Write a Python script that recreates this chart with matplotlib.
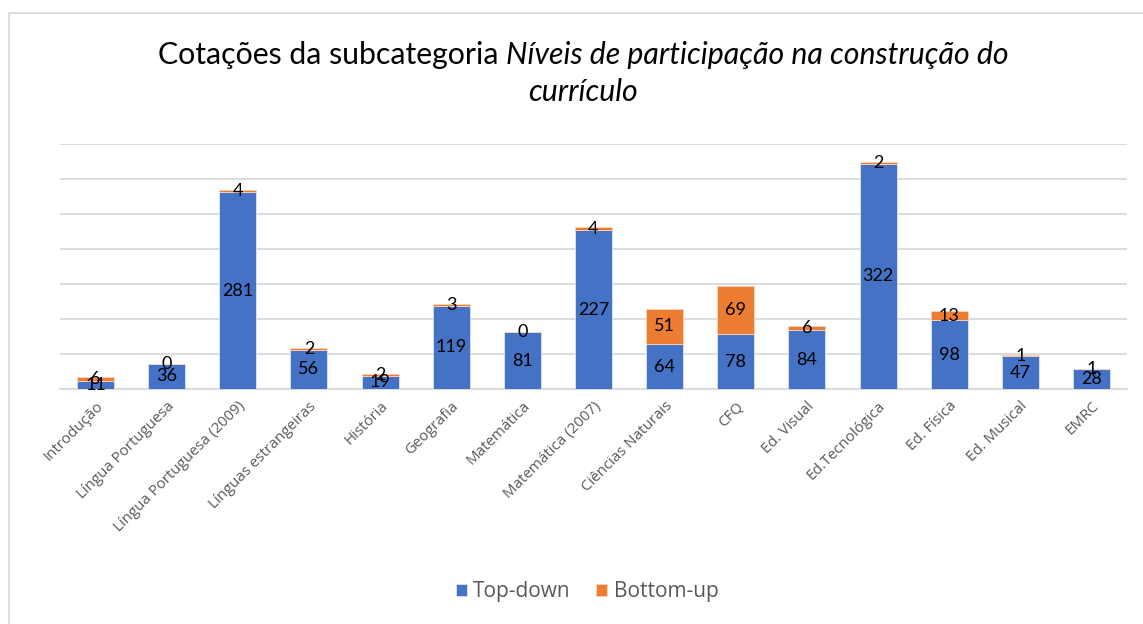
import matplotlib
matplotlib.use("Agg")
import matplotlib.pyplot as plt
from matplotlib.patches import Rectangle

categories = ["Introdução", "Língua Portuguesa", "Língua Portuguesa (2009)",
              "Línguas estrangeiras", "História", "Geografia", "Matemática",
              "Matemática (2007)", "Ciências Naturais", "CFQ", "Ed. Visual",
              "Ed.Tecnológica", "Ed. Física", "Ed. Musical", "EMRC"]
top_down = [11, 36, 281, 56, 19, 119, 81, 227, 64, 78, 84, 322, 98, 47, 28]
bottom_up = [6, 0, 4, 2, 2, 3, 0, 4, 51, 69, 6, 2, 13, 1, 1]
series_names = ["Top-down", "Bottom-up"]

BLUE = "#4472C4"
ORANGE = "#ED7D31"
GRAY = "#595959"
FONT = "Lato"
FONT2 = "Open Sans"

plt.rcParams['font.family'] = [FONT, 'DejaVu Sans']

W, H = 1143, 624
fig = plt.figure(figsize=(W / 100, H / 100), dpi=100)
fig.patch.set_facecolor("white")

# outer chart border
fig.patches.append(Rectangle((8.5 / W, -0.1), 1.2, (624 - 12.5) / H + 0.1,
                             transform=fig.transFigure, fill=False,
                             edgecolor="#D9D9D9", linewidth=1.3, zorder=0))

ax = fig.add_axes([60 / W, (624 - 389) / H, (1127 - 60) / W, (389 - 144) / H])
x = list(range(len(categories)))
bw = 0.52
b1 = ax.bar(x, top_down, width=bw, color=BLUE, edgecolor="#DCE3F2",
            linewidth=0.6, label=series_names[0], zorder=3)
b2 = ax.bar(x, bottom_up, width=bw, bottom=top_down, color=ORANGE,
            edgecolor="#F8D5BD", linewidth=0.6, label=series_names[1], zorder=3)

for i in x:
    ax.text(i, top_down[i] / 2, str(top_down[i]), ha="center", va="center",
            fontsize=13, color="black", zorder=5)
    ax.text(i, top_down[i] + bottom_up[i] / 2, str(bottom_up[i]), ha="center",
            va="center", fontsize=13, color="black", zorder=5)

ax.set_xlim(-0.5, len(categories) - 0.5)
ax.set_ylim(0, 350)
ax.set_yticks(range(0, 351, 50))
ax.yaxis.grid(True, color="#D9D9D9", linewidth=1.3, zorder=0)
ax.set_axisbelow(True)
ax.tick_params(axis="y", left=False, labelleft=False)
ax.tick_params(axis="x", bottom=False, length=0, pad=7)
for s in ["top", "right", "left"]:
    ax.spines[s].set_visible(False)
ax.spines["bottom"].set_color("#D9D9D9")
ax.spines["bottom"].set_linewidth(1.3)
ax.set_xticks(x)
ax.set_xticklabels(categories, rotation=45, ha="right", rotation_mode="anchor",
                   fontsize=10.8, color=GRAY, family=[FONT2, "DejaVu Sans"])

# legend
leg = fig.legend(handles=[b1, b2], labels=series_names, loc="center",
                 bbox_to_anchor=(587 / W, 1 - 592 / H), ncol=2, frameon=False,
                 prop={"family": [FONT2, "DejaVu Sans"], "size": 15},
                 handlelength=0.55, handleheight=0.55,
                 handletextpad=0.3, columnspacing=1.2, labelcolor=GRAY)

# title with mixed italic
fig.canvas.draw()
r = fig.canvas.get_renderer()
fs = 21.8
part1 = "Cotações da subcategoria "
part2 = "Níveis de participação na construção do"
cx = 583 / W
y1 = 1 - 55 / H
y2 = 1 - 92 / H
t1 = fig.text(0, y1, part1, fontsize=fs, va="center", ha="left")
t2 = fig.text(0, y1, part2, fontsize=fs, va="center", ha="left", style="italic")
w1 = t1.get_window_extent(r).width / W
w2 = t2.get_window_extent(r).width / W
start = cx - (w1 + w2) / 2
t1.set_x(start)
t2.set_x(start + w1)
fig.text(cx, y2, "currículo", fontsize=fs, va="center", ha="center", style="italic")

fig.savefig("out.png", dpi=100, facecolor="white")
